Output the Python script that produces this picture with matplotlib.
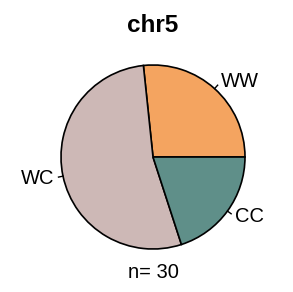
import numpy as np
import matplotlib.pyplot as plt

plt.rcParams['font.family'] = ['Liberation Sans', 'DejaVu Sans']

labels = ['WW', 'WC', 'CC']
counts = [8, 16, 6]
colors = ['#F4A460', '#CDB8B6', '#5F8F89']
title = 'chr5'

fig = plt.figure(figsize=(2.93, 2.92), dpi=100)
ax = fig.add_axes([0, 0, 1, 1])
ax.set_xlim(0, 293)
ax.set_ylim(0, 292)
ax.set_aspect('equal')
ax.axis('off')

cx, cy, r = 153, 135, 92
ax.pie(counts, colors=colors, startangle=0, counterclock=True,
       center=(cx, cy), radius=r,
       wedgeprops=dict(edgecolor='black', linewidth=1.2))
ax.set_xlim(0, 293)
ax.set_ylim(0, 292)

# R style labels with small tick lines
tot = sum(counts)
edges = np.cumsum([0] + counts) / tot * 2 * np.pi
for lab, a0, a1 in zip(labels, edges[:-1], edges[1:]):
    mid = (a0 + a1) / 2
    c, s = np.cos(mid), np.sin(mid)
    ax.plot([cx + r * c, cx + 1.05 * r * c], [cy + r * s, cy + 1.05 * r * s],
            color='black', lw=1.0)
    ax.text(cx + 1.1 * r * c, cy + 1.1 * r * s, lab, fontsize=14.5,
            ha='left' if c > 0 else 'right', va='center')

ax.text(cx, 267, title, fontsize=17.5, fontweight='bold', ha='center', va='center')
ax.text(cx, 19, f'n= {tot}', fontsize=14.5, ha='center', va='center')

fig.savefig('out.png', dpi=100)
